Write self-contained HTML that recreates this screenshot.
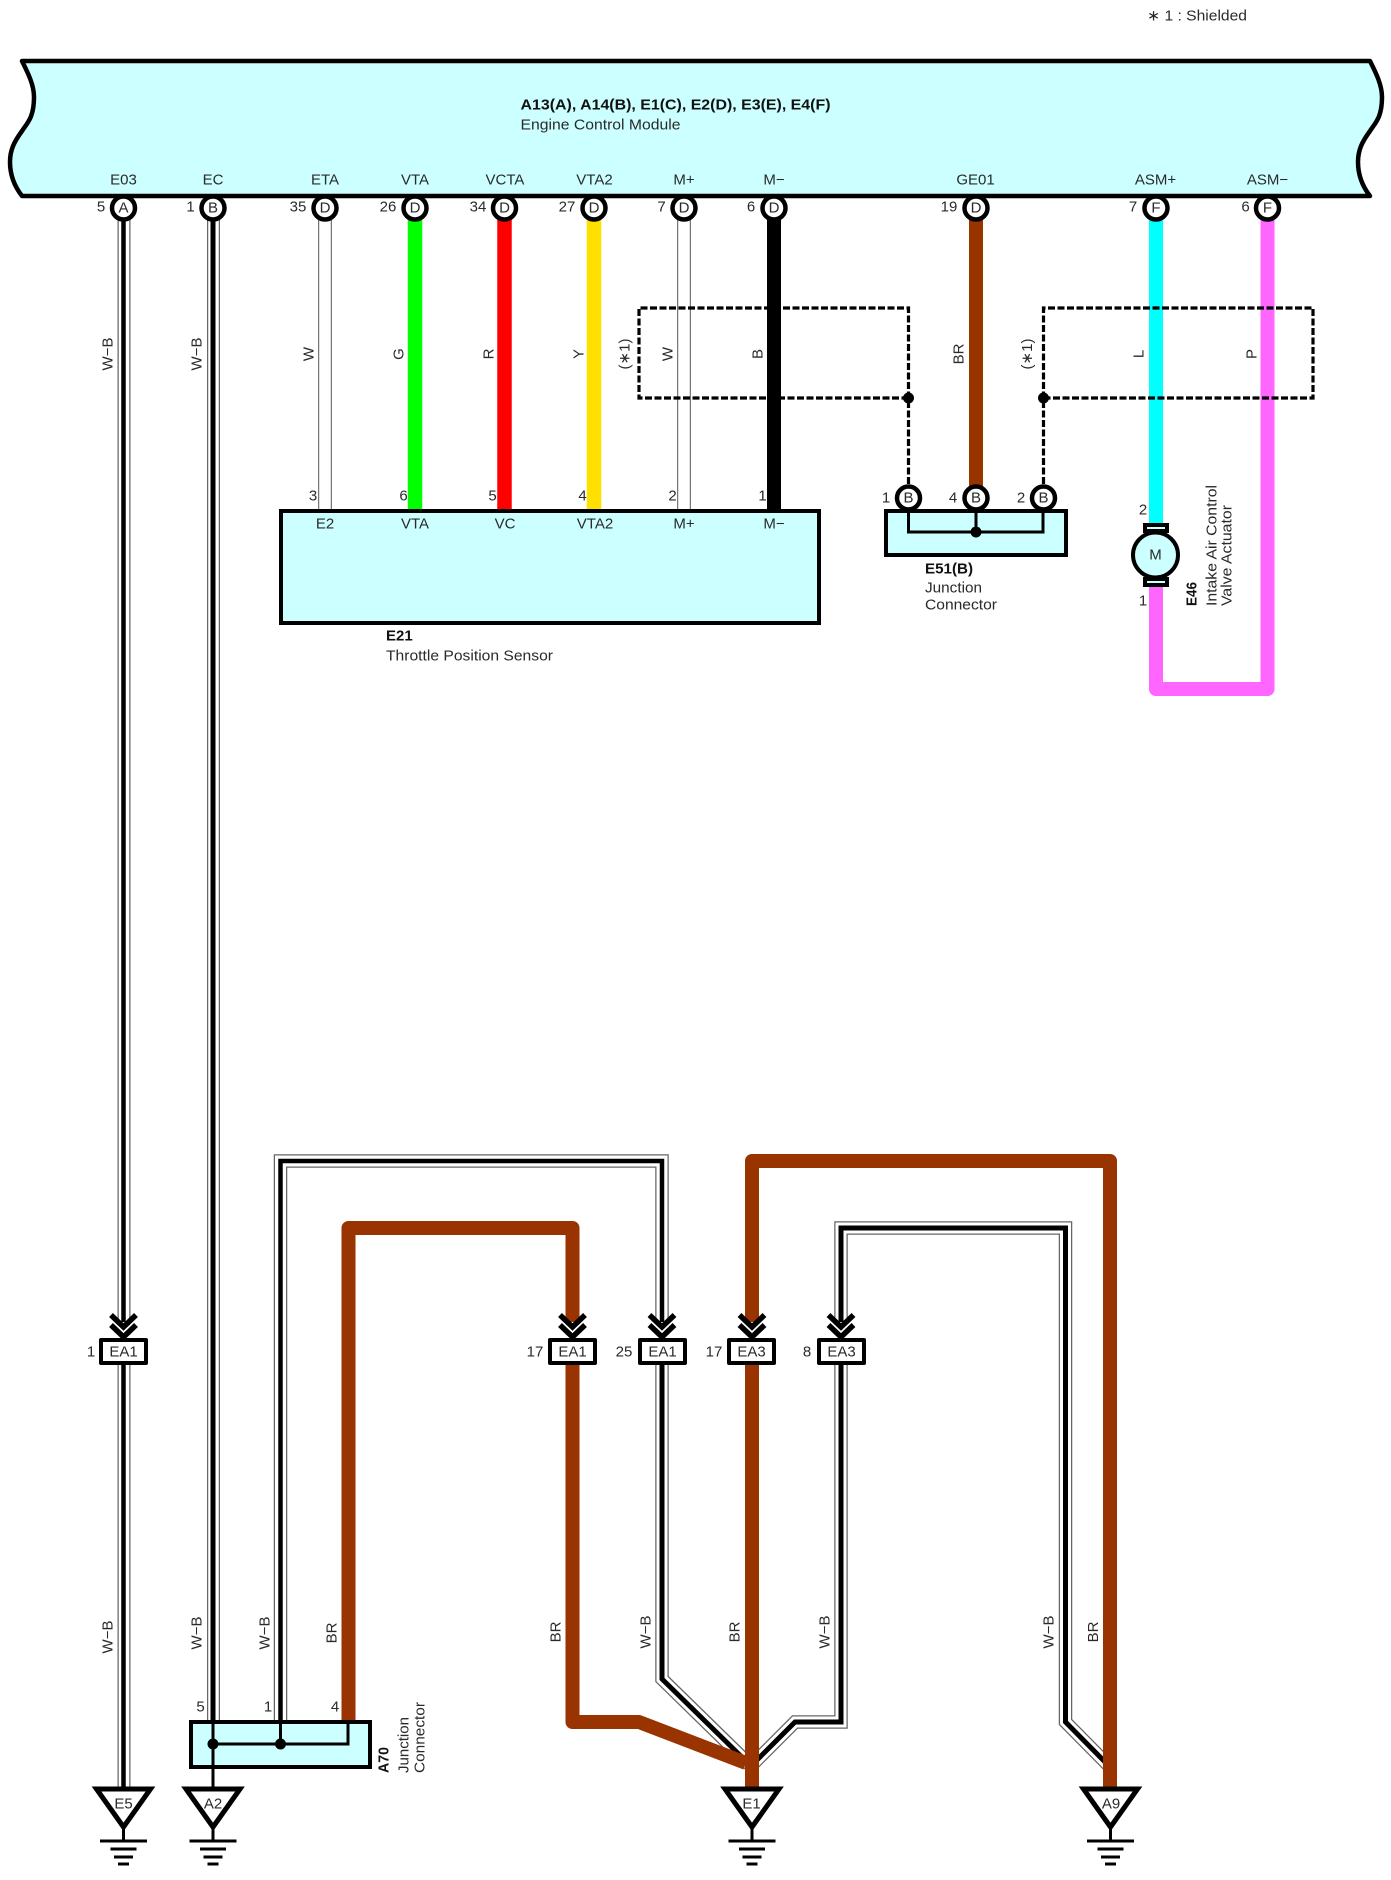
<!DOCTYPE html>
<html><head><meta charset="utf-8"><style>
html,body{margin:0;padding:0;background:#fff}
svg{display:block}
text{font-family:"Liberation Sans",sans-serif;font-size:15px;fill:#2a2a2a}
.m{text-anchor:middle;dominant-baseline:central}
.l{dominant-baseline:central}
.b{font-weight:bold;fill:#111}
.rot{text-anchor:middle;dominant-baseline:central}
</style></head><body>
<svg width="1391" height="1880" viewBox="0 0 1391 1880" xmlns="http://www.w3.org/2000/svg">
<defs>
<g id="chev" fill="none" stroke="#000" stroke-width="5.500"><polyline points="-12.500,-38 0,-26 12.500,-38"/><polyline points="-12.500,-28 0,-16 12.500,-28"/></g>
<g id="gnd" stroke="#000" stroke-width="3" fill="none"><polygon points="-27,2 27,2 0,40" fill="#fff" stroke-width="5"/><path d="M0 40V54M-23.500 54H23.500M-13 62H13M-9.500 70H9.500M-5.500 77H5.500"/></g>
</defs>
<rect width="1391" height="1880" fill="#fff"/>

<!-- ECM -->
<path d="M22,61 H1370 C1376,73 1382,85 1382,97 C1382,118 1375,123 1370,131 C1362,142 1358,150 1358,162 C1358,175 1363,187 1370,196 H22 C15,187 10,175 10,162 C10,150 14,142 22,131 C27,123 34,118 34,97 C34,85 28,73 22,61 Z" fill="#ccffff" stroke="#000" stroke-width="4.500" stroke-linejoin="round"/>
<text class="l b" x="520.500" y="105" textLength="310" lengthAdjust="spacingAndGlyphs">A13(A), A14(B), E1(C), E2(D), E3(E), E4(F)</text>
<text class="l" x="520.500" y="125" textLength="160" lengthAdjust="spacingAndGlyphs">Engine Control Module</text>
<text class="l" x="1147" y="16" textLength="100" lengthAdjust="spacingAndGlyphs">∗ 1 : Shielded</text>
<g class="pins">
<text class="m" x="123.500" y="180">E03</text><text class="m" x="213" y="180">EC</text><text class="m" x="325" y="180">ETA</text><text class="m" x="415" y="180">VTA</text><text class="m" x="505" y="180">VCTA</text><text class="m" x="594.500" y="180">VTA2</text><text class="m" x="684" y="180">M+</text><text class="m" x="774" y="180">M−</text><text class="m" x="975.500" y="180">GE01</text><text class="m" x="1155.500" y="180">ASM+</text><text class="m" x="1267.500" y="180">ASM−</text>
<text class="m" x="101" y="207">5</text><text class="m" x="190.500" y="207">1</text><text class="m" x="298" y="207">35</text><text class="m" x="388" y="207">26</text><text class="m" x="478" y="207">34</text><text class="m" x="567" y="207">27</text><text class="m" x="661.500" y="207">7</text><text class="m" x="751" y="207">6</text><text class="m" x="949" y="207">19</text><text class="m" x="1133" y="207">7</text><text class="m" x="1245.500" y="207">6</text>
</g>

<!-- Upper wires -->
<g fill="none">
<path d="M124 208V1322M124 1365V1787" stroke="#666" stroke-width="13"/><path d="M124 208V1322M124 1365V1787" stroke="#fff" stroke-width="10.500"/><path d="M123.500 208V1322M123.500 1365V1787" stroke="#000" stroke-width="4.500"/>
<path d="M213.500 208V1720" stroke="#666" stroke-width="13"/><path d="M213.500 208V1720" stroke="#fff" stroke-width="10.500"/><path d="M213 208V1720" stroke="#000" stroke-width="5"/>
<path d="M325 208V509" stroke="#777" stroke-width="14"/><path d="M325 208V509" stroke="#fff" stroke-width="11.500"/>
<path d="M684 208V509" stroke="#777" stroke-width="14"/><path d="M684 208V509" stroke="#fff" stroke-width="11.500"/>
<path d="M415 208V509" stroke="#00ff00" stroke-width="14.500"/>
<path d="M504.500 208V509" stroke="#ff0000" stroke-width="14.500"/>
<path d="M594 208V509" stroke="#ffe000" stroke-width="14.500"/>
<path d="M774 208V509" stroke="#000" stroke-width="14"/>
<path d="M976 208V490" stroke="#993300" stroke-width="14"/>
<path d="M1156 208V523" stroke="#00ffff" stroke-width="14"/>
<path d="M1156 587V689H1267.500V208" stroke="#ff66ff" stroke-width="14" stroke-linejoin="round"/>
</g>

<!-- Shield -->
<g fill="none" stroke="#000" stroke-width="3.200" stroke-dasharray="7 2.500">
<path d="M908.500 398H639V308H908.500V486"/>
<path d="M1043.500 398H1313V308H1043.500V486"/>
</g>
<circle cx="908.500" cy="398" r="5.500"/><circle cx="1043.500" cy="398" r="5.500"/>

<!-- Wire labels -->
<g>
<text class="rot" transform="translate(108,354) rotate(-90)">W−B</text>
<text class="rot" transform="translate(197,354) rotate(-90)">W−B</text>
<text class="rot" transform="translate(309,354) rotate(-90)">W</text>
<text class="rot" transform="translate(399,354) rotate(-90)">G</text>
<text class="rot" transform="translate(489,354) rotate(-90)">R</text>
<text class="rot" transform="translate(579,354) rotate(-90)">Y</text>
<text class="rot" transform="translate(625,354) rotate(-90)">(∗1)</text>
<text class="rot" transform="translate(668,354) rotate(-90)">W</text>
<text class="rot" transform="translate(758,354) rotate(-90)">B</text>
<text class="rot" transform="translate(959,354) rotate(-90)">BR</text>
<text class="rot" transform="translate(1027.500,354) rotate(-90)">(∗1)</text>
<text class="rot" transform="translate(1139,354) rotate(-90)">L</text>
<text class="rot" transform="translate(1252,354) rotate(-90)">P</text>
<text class="rot" transform="translate(108,1637) rotate(-90)">W−B</text>
<text class="rot" transform="translate(197,1633) rotate(-90)">W−B</text>
<text class="rot" transform="translate(265,1633) rotate(-90)">W−B</text>
<text class="rot" transform="translate(332,1633) rotate(-90)">BR</text>
<text class="rot" transform="translate(556,1632) rotate(-90)">BR</text>
<text class="rot" transform="translate(646,1632) rotate(-90)">W−B</text>
<text class="rot" transform="translate(735,1632) rotate(-90)">BR</text>
<text class="rot" transform="translate(825,1632) rotate(-90)">W−B</text>
<text class="rot" transform="translate(1049,1632) rotate(-90)">W−B</text>
<text class="rot" transform="translate(1093.500,1632) rotate(-90)">BR</text>
</g>

<!-- ECM connector circles -->
<g fill="#fff" stroke="#000" stroke-width="4.500">
<circle cx="123.500" cy="208" r="11.500"/><circle cx="213" cy="208" r="11.500"/><circle cx="325" cy="208" r="11.500"/><circle cx="415" cy="208" r="11.500"/><circle cx="504.500" cy="208" r="11.500"/><circle cx="594" cy="208" r="11.500"/><circle cx="684" cy="208" r="11.500"/><circle cx="774" cy="208" r="11.500"/><circle cx="976" cy="208" r="11.500"/><circle cx="1156" cy="208" r="11.500"/><circle cx="1267.500" cy="208" r="11.500"/>
</g>
<text class="m" x="123.500" y="208">A</text><text class="m" x="213" y="208">B</text><text class="m" x="325" y="208">D</text><text class="m" x="415" y="208">D</text><text class="m" x="504.500" y="208">D</text><text class="m" x="594" y="208">D</text><text class="m" x="684" y="208">D</text><text class="m" x="774" y="208">D</text><text class="m" x="976" y="208">D</text><text class="m" x="1156" y="208">F</text><text class="m" x="1267.500" y="208">F</text>

<!-- E21 -->
<rect x="281" y="511" width="538" height="112" fill="#ccffff" stroke="#000" stroke-width="4"/>
<text class="m" x="313" y="496">3</text><text class="m" x="403.500" y="496">6</text><text class="m" x="492.500" y="496">5</text><text class="m" x="582.500" y="496">4</text><text class="m" x="672.500" y="496">2</text><text class="m" x="762.500" y="496">1</text>
<text class="m" x="325" y="524">E2</text><text class="m" x="415" y="524">VTA</text><text class="m" x="505" y="524">VC</text><text class="m" x="595" y="524">VTA2</text><text class="m" x="684" y="524">M+</text><text class="m" x="774" y="524">M−</text>
<text class="l b" x="386" y="636">E21</text>
<text class="l" x="386" y="656" textLength="167" lengthAdjust="spacingAndGlyphs">Throttle Position Sensor</text>

<!-- E51 -->
<rect x="886" y="511" width="180" height="44" fill="#ccffff" stroke="#000" stroke-width="4"/>
<path d="M908.500 510V532H1043V510M976 510V532" fill="none" stroke="#000" stroke-width="3"/>
<circle cx="976" cy="532" r="5.500"/>
<g fill="#fff" stroke="#000" stroke-width="4.500"><circle cx="908.500" cy="498" r="11.500"/><circle cx="976" cy="498" r="11.500"/><circle cx="1043.500" cy="498" r="11.500"/></g>
<text class="m" x="908.500" y="498">B</text><text class="m" x="976" y="498">B</text><text class="m" x="1043.500" y="498">B</text>
<text class="m" x="886" y="498">1</text><text class="m" x="953" y="498">4</text><text class="m" x="1021" y="498">2</text>
<text class="l b" x="925" y="569" textLength="48" lengthAdjust="spacingAndGlyphs">E51(B)</text>
<text class="l" x="925" y="588" textLength="57" lengthAdjust="spacingAndGlyphs">Junction</text>
<text class="l" x="925" y="605" textLength="72" lengthAdjust="spacingAndGlyphs">Connector</text>

<!-- Motor E46 -->
<g stroke="#000" stroke-width="4">
<rect x="1145" y="525" width="22" height="6" fill="#ccffff"/>
<rect x="1145" y="579" width="22" height="6" fill="#ccffff"/>
<circle cx="1155.500" cy="555" r="22.500" fill="#ccffff"/>
</g>
<text class="m" x="1155.500" y="555">M</text>
<text class="m" x="1143" y="510">2</text><text class="m" x="1143" y="601">1</text>
<text class="l b" transform="translate(1192,606) rotate(-90)" textLength="24" lengthAdjust="spacingAndGlyphs">E46</text>
<text class="l" transform="translate(1212,606) rotate(-90)" textLength="121" lengthAdjust="spacingAndGlyphs">Intake Air Control</text>
<text class="l" transform="translate(1227,606) rotate(-90)" textLength="101" lengthAdjust="spacingAndGlyphs">Valve Actuator</text>

<!-- Lower wires: W-B -->
<g fill="none" stroke-linejoin="miter">
<path d="M280.500 1720V1161H662V1322" stroke="#666" stroke-width="13.500"/>
<path d="M280.500 1720V1161H662V1322" stroke="#fff" stroke-width="11"/>
<path d="M280.500 1720V1161H662V1322" stroke="#000" stroke-width="4.500"/>
<path d="M662 1365V1679L752 1767" stroke="#666" stroke-width="13.500"/>
<path d="M662 1365V1679L752 1767" stroke="#fff" stroke-width="11"/>
<path d="M662 1365V1679L752 1767" stroke="#000" stroke-width="5"/>
<path d="M841 1322V1228H1065.500V1722L1110 1767" stroke="#666" stroke-width="13.500"/>
<path d="M841 1322V1228H1065.500V1722L1110 1767" stroke="#fff" stroke-width="11"/>
<path d="M841 1322V1228H1065.500V1722L1110 1767" stroke="#000" stroke-width="5"/>
<path d="M841 1365V1722H795L752 1765" stroke="#666" stroke-width="13.500"/>
<path d="M841 1365V1722H795L752 1765" stroke="#fff" stroke-width="11"/>
<path d="M841 1365V1722H795L752 1765" stroke="#000" stroke-width="5"/>
<!-- brown -->
<path d="M348.500 1720V1228H572.500V1322" stroke="#993300" stroke-width="14" stroke-linejoin="round"/>
<path d="M752 1322V1161H1110V1787" stroke="#993300" stroke-width="14" stroke-linejoin="round"/>
<path d="M572.500 1365V1722H639L746 1763" stroke="#993300" stroke-width="14" stroke-linejoin="round"/>
<path d="M752 1365V1787" stroke="#993300" stroke-width="14"/>
</g>

<!-- Inline connectors -->
<use href="#chev" x="123.500" y="1353"/><use href="#chev" x="572.500" y="1353"/><use href="#chev" x="662" y="1353"/><use href="#chev" x="752" y="1353"/><use href="#chev" x="841" y="1353"/>
<g fill="#fff" stroke="#000" stroke-width="4" stroke-linejoin="round">
<rect x="101" y="1340" width="45" height="23"/><rect x="550" y="1340" width="45" height="23"/><rect x="640" y="1340" width="45" height="23"/><rect x="729" y="1340" width="45" height="23"/><rect x="819" y="1340" width="45" height="23"/>
</g>
<text class="m" x="123.500" y="1352">EA1</text><text class="m" x="572.500" y="1352">EA1</text><text class="m" x="662.500" y="1352">EA1</text><text class="m" x="751.500" y="1352">EA3</text><text class="m" x="841.500" y="1352">EA3</text>
<text class="m" x="91" y="1352">1</text><text class="m" x="535" y="1352">17</text><text class="m" x="624" y="1352">25</text><text class="m" x="714" y="1352">17</text><text class="m" x="807" y="1352">8</text>

<!-- A70 -->
<rect x="191" y="1722" width="179" height="45" fill="#ccffff" stroke="#000" stroke-width="4"/>
<path d="M213 1720V1787M280.500 1720V1744M348 1720V1744H213" fill="none" stroke="#000" stroke-width="3"/>
<circle cx="213" cy="1744" r="5.500"/><circle cx="280.500" cy="1744" r="5.500"/>
<text class="m" x="200.500" y="1707">5</text><text class="m" x="268" y="1707">1</text><text class="m" x="335" y="1707">4</text>
<text class="l b" transform="translate(384,1773) rotate(-90)" textLength="26" lengthAdjust="spacingAndGlyphs">A70</text>
<text class="l" transform="translate(404,1773) rotate(-90)" textLength="56" lengthAdjust="spacingAndGlyphs">Junction</text>
<text class="l" transform="translate(420,1773) rotate(-90)" textLength="71" lengthAdjust="spacingAndGlyphs">Connector</text>

<!-- Grounds -->
<use href="#gnd" x="123.500" y="1787"/><use href="#gnd" x="213" y="1787"/><use href="#gnd" x="752" y="1787"/><use href="#gnd" x="1110.500" y="1787"/>
<text class="m" x="123.500" y="1804">E5</text><text class="m" x="213" y="1804">A2</text><text class="m" x="751.500" y="1804">E1</text><text class="m" x="1111" y="1804">A9</text>
</svg>
</body></html>
